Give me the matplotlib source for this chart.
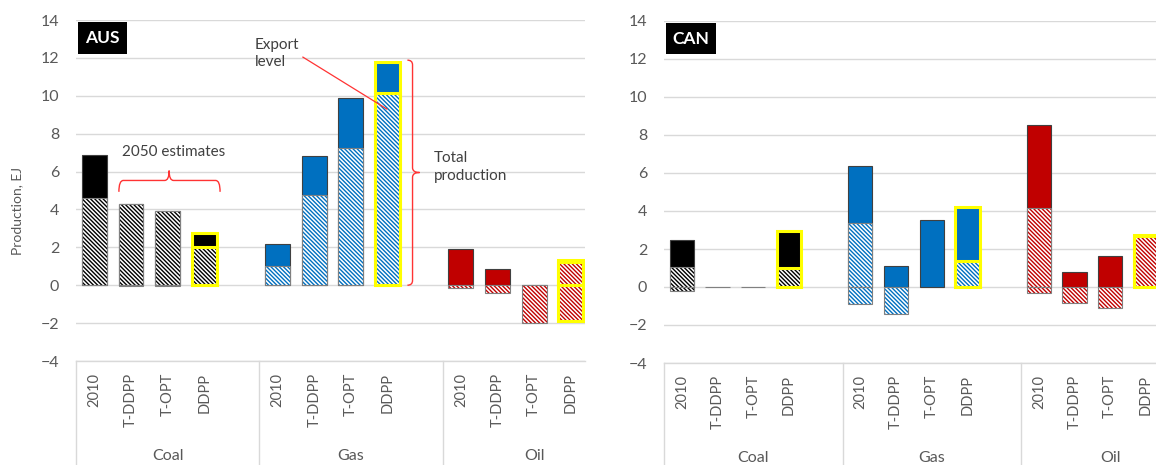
import matplotlib
matplotlib.use("Agg")
import matplotlib.pyplot as plt
import matplotlib.transforms as mtransforms
from matplotlib.patches import Rectangle, PathPatch
from matplotlib.path import Path

plt.rcParams['font.family'] = ['Lato', 'DejaVu Sans']
plt.rcParams['hatch.linewidth'] = 1.0

# -----------------------
# Data (EJ)
# -----------------------
scenarios = ["2010", "T-DDPP", "T-OPT", "DDPP"]
fuels = ["Coal", "Gas", "Oil"]
fuel_colors = ["#000000", "#0070C0", "#C00000"]

# AUS: total production (solid), export level (hatched, +), net import (hatched, -)
aus_prod = [[6.9, 4.3, 3.9, 2.75],
            [2.2, 6.8, 9.9, 11.8],
            [1.93, 0.85, 0.0, 1.35]]
aus_exp = [[4.6, 4.3, 3.9, 2.0],
           [1.0, 4.75, 7.25, 10.15],
           [0.0, 0.0, 0.0, 1.25]]
aus_imp = [[0.0, -0.05, -0.05, 0.0],
           [0.0, 0.0, 0.0, 0.0],
           [-0.13, -0.4, -2.0, -1.9]]

# CAN
can_prod = [[2.5, 0.0, 0.0, 2.95],
            [6.35, 1.12, 3.53, 4.23],
            [8.5, 0.81, 1.63, 2.75]]
can_exp = [[1.05, 0.0, 0.0, 1.0],
           [3.38, 0.0, 0.0, 1.37],
           [4.14, 0.0, 0.0, 2.7]]
can_imp = [[-0.2, 0.0, 0.0, 0.0],
           [-0.9, -1.44, 0.0, 0.0],
           [-0.3, -0.83, -1.09, 0.0]]

yticks = [-4, -2, 0, 2, 4, 6, 8, 10, 12, 14]

GRID = "#D9D9D9"
TXT = "#595959"
HL = "#FFFF00"
W = 0.68


def draw_panel(ax, prod, exp, imp, xmax):
    for g, fuel in enumerate(fuels):
        xs = [g * 5 + i for i in range(len(scenarios))]
        col = fuel_colors[g]
        lws = [2.2 if s == "DDPP" else 0.8 for s in scenarios]
        edges = [HL if s == "DDPP" else ("#404040" if p > 0 else "#808080")
                 for s, p in zip(scenarios, prod[g])]
        ax.bar(xs, prod[g], width=W, color=col, edgecolor=edges,
               linewidth=lws, zorder=2)
        for part in (exp[g], imp[g]):
            ax.bar(xs, part, width=W, color="white", edgecolor=col,
                   linewidth=0, hatch="\\" * 8, zorder=3)
            hedges = [("none" if v == 0 else (HL if s == "DDPP" else "#808080"))
                      for s, v in zip(scenarios, part)]
            ax.bar(xs, part, width=W, fill=False, edgecolor=hedges,
                   linewidth=lws, zorder=4)

    ax.set_xlim(-0.5, xmax)
    ax.set_ylim(-4, 14)
    ax.set_yticks(yticks)
    ax.set_xticks([])
    ax.yaxis.grid(True, color=GRID, linewidth=1.0, zorder=0)
    ax.set_axisbelow(True)
    for side in ["top", "right", "left"]:
        ax.spines[side].set_visible(False)
    ax.spines["bottom"].set_color(GRID)
    ax.spines["bottom"].set_linewidth(1.0)
    ax.tick_params(axis="y", length=0, pad=12, labelsize=11.5, labelcolor=TXT)

    trans = mtransforms.blended_transform_factory(ax.transData, ax.transAxes)
    for g, fuel in enumerate(fuels):
        for i, s in enumerate(scenarios):
            ax.annotate(s, xy=(g * 5 + i, 0), xycoords=trans,
                        xytext=(0, -12), textcoords="offset pixels",
                        rotation=90, ha="center", va="top",
                        fontsize=10.5, color=TXT, annotation_clip=False)
        ax.annotate(fuel, xy=(g * 5 + 2, 0), xycoords=trans,
                    xytext=(0, -95), textcoords="offset pixels",
                    ha="center", va="center", fontsize=11.5, color=TXT,
                    annotation_clip=False)
    for xb in [-0.5, 4.5, 9.5, 14.5]:
        if xb < xmax:
            ax.plot([xb, xb], [0, -0.35], transform=trans, color=GRID,
                    linewidth=1.0, clip_on=False)


def brace_h(ax, x0, x1, xm, yb, yh, yt, rx, color):
    verts = [(x0, yb), (x0, yh), (x0 + rx, yh),
             (xm - rx, yh), (xm, yh), (xm, yt),
             (xm, yh), (xm + rx, yh),
             (x1 - rx, yh), (x1, yh), (x1, yb)]
    codes = [Path.MOVETO, Path.CURVE3, Path.CURVE3,
             Path.LINETO, Path.CURVE3, Path.CURVE3,
             Path.CURVE3, Path.CURVE3,
             Path.LINETO, Path.CURVE3, Path.CURVE3]
    ax.add_patch(PathPatch(Path(verts, codes), fill=False, edgecolor=color,
                           linewidth=1.0, zorder=5))


def brace_v(ax, y0, y1, ym, xb, xh, xt, ry, color):
    verts = [(xb, y0), (xh, y0), (xh, y0 + ry),
             (xh, ym - ry), (xh, ym), (xt, ym),
             (xh, ym), (xh, ym + ry),
             (xh, y1 - ry), (xh, y1), (xb, y1)]
    codes = [Path.MOVETO, Path.CURVE3, Path.CURVE3,
             Path.LINETO, Path.CURVE3, Path.CURVE3,
             Path.CURVE3, Path.CURVE3,
             Path.LINETO, Path.CURVE3, Path.CURVE3]
    ax.add_patch(PathPatch(Path(verts, codes), fill=False, edgecolor=color,
                           linewidth=1.0, zorder=5))


fig = plt.figure(figsize=(11.56, 4.65), dpi=100)

ax1 = fig.add_axes([76 / 1156, 1 - 361 / 465, (585 - 76) / 1156, 341 / 465])
draw_panel(ax1, aus_prod, aus_exp, aus_imp, -0.5 + (585 - 76) / 36.66)

ax2 = fig.add_axes([664 / 1156, 1 - 363 / 465, (1156 - 664) / 1156, 342 / 465])
draw_panel(ax2, can_prod, can_exp, can_imp, -0.5 + (1156 - 664) / 35.7)

# annotations on AUS panel
red = "#FF3333"
ax1.text(2.17, 7.04, "2050 estimates", ha="center", va="center",
         fontsize=11, color="#404040", zorder=6)
brace_h(ax1, 0.67, 3.43, 2.04, 4.93, 5.53, 6.05, 0.12, red)

ax1.text(4.38, 13.05, "Export\nlevel", ha="left", va="top", fontsize=11,
         color="#404040", linespacing=1.25, zorder=6)
ax1.plot([5.69, 7.98], [12.04, 9.3], color=red, linewidth=0.9, zorder=6)

brace_v(ax1, 0.0, 11.88, 5.95, 8.54, 8.68, 8.87, 0.25, red)
ax1.text(9.27, 7.1, "Total\nproduction", ha="left", va="top", fontsize=11,
         color="#404040", linespacing=1.35, zorder=6)

# country boxes
for (x0, y0, w, h, name) in [(78, 22, 49, 32, "AUS"), (666, 23, 50, 31, "CAN")]:
    fig.patches.append(Rectangle((x0 / 1156, 1 - (y0 + h) / 465), w / 1156, h / 465,
                                 transform=fig.transFigure, facecolor="black",
                                 edgecolor="none"))
    fig.text((x0 + w / 2) / 1156, 1 - (y0 + h / 2) / 465, name, color="white",
             fontsize=12.5, fontweight="bold", ha="center", va="center")

fig.text(17 / 1156, 1 - 211 / 465, "Production, EJ", rotation=90,
         ha="center", va="center", fontsize=10, color=TXT)

fig.savefig("out.png", dpi=100)
